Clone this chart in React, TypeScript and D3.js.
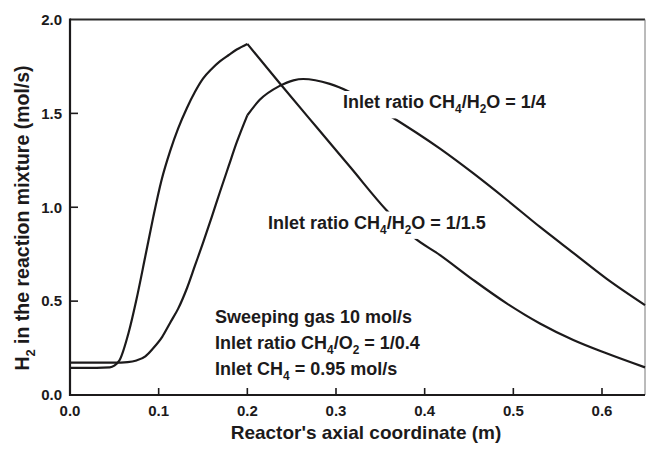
import React, { useEffect, useRef } from "react";
import * as d3 from "d3";

const WIDTH = 646;
const HEIGHT = 451;
const FONT = "'Liberation Sans', Arial, Helvetica, sans-serif";
const INK = "#1c1a1b";

// Inlet ratio CH4/H2O = 1/1.5 : axial position (m) and H2 flow (mol/s)
const posRatio15 = [0, 0.03, 0.045, 0.05, 0.056, 0.066, 0.075, 0.085, 0.094, 0.103, 0.113, 0.122, 0.132, 0.141, 0.15, 0.16, 0.169, 0.179, 0.188, 0.2, 0.237, 0.278, 0.316, 0.357, 0.387, 0.4173, 0.455, 0.4925, 0.53, 0.5676, 0.605, 0.6485];
const h2Ratio15 = [0.145, 0.145, 0.147, 0.156, 0.186, 0.33, 0.51, 0.74, 0.95, 1.14, 1.3, 1.42, 1.53, 1.615, 1.685, 1.738, 1.777, 1.811, 1.84, 1.87, 1.658, 1.427, 1.214, 0.984, 0.842, 0.745, 0.612, 0.488, 0.381, 0.293, 0.222, 0.147];

// Inlet ratio CH4/H2O = 1/4
const posRatio4 = [0, 0.05, 0.065, 0.075, 0.085, 0.094, 0.104, 0.113, 0.122, 0.132, 0.141, 0.15, 0.16, 0.169, 0.179, 0.188, 0.2, 0.214, 0.236, 0.252, 0.263, 0.293, 0.316, 0.357, 0.4173, 0.455, 0.4925, 0.53, 0.5676, 0.605, 0.6485];
const h2Ratio4 = [0.172, 0.172, 0.175, 0.184, 0.206, 0.25, 0.31, 0.385, 0.46, 0.57, 0.69, 0.81, 0.95, 1.08, 1.22, 1.345, 1.49, 1.572, 1.645, 1.676, 1.683, 1.657, 1.613, 1.498, 1.312, 1.18, 1.04, 0.895, 0.757, 0.62, 0.479];

// Membrane section begins here; both profiles change slope at this point
const KINK = 0.2;

const xTicks = [0, 0.1, 0.2, 0.3, 0.4, 0.5, 0.6];
const yTicks = [0, 0.5, 1.0, 1.5, 2.0];

type Part = [string, boolean];

const xTitle = "Reactor's axial coordinate (m)";
const yTitle: Part[] = [["H", false], ["2", true], [" in the reaction mixture (mol/s)", false]];

const labelRatio4: Part[] = [["Inlet ratio CH", false], ["4", true], ["/H", false], ["2", true], ["O = 1/4", false]];
const labelRatio15: Part[] = [["Inlet ratio CH", false], ["4", true], ["/H", false], ["2", true], ["O = 1/1.5", false]];
const conditions: Part[][] = [
  [["Sweeping gas 10 mol/s", false]],
  [["Inlet ratio CH", false], ["4", true], ["/O", false], ["2", true], [" = 1/0.4", false]],
  [["Inlet CH", false], ["4", true], [" = 0.95 mol/s", false]],
];

function richText(
  g: d3.Selection<SVGGElement, unknown, null, undefined>,
  parts: Part[],
  x: number,
  y: number,
  size: number,
  anchor = "start"
) {
  const t = g
    .append("text")
    .attr("x", x)
    .attr("y", y)
    .attr("font-family", FONT)
    .attr("font-weight", "bold")
    .attr("font-size", size)
    .attr("fill", INK)
    .attr("text-anchor", anchor);
  const shift = size * 0.3;
  let down = false;
  parts.forEach(([s, sub]) => {
    const span = t.append("tspan").text(s);
    if (sub) {
      span.attr("font-size", size * 0.66);
      if (!down) span.attr("dy", shift);
      down = true;
    } else {
      if (down) span.attr("dy", -shift);
      down = false;
    }
  });
  return t;
}

export default function App() {
  const ref = useRef<SVGSVGElement>(null);

  useEffect(() => {
    const svg = d3.select(ref.current!);
    svg.selectAll("*").remove();
    const g = svg.append("g");

    const x = d3.scaleLinear().domain([0, 0.6485]).range([70, 645]);
    const y = d3.scaleLinear().domain([0, 2]).range([395, 19.5]);

    // frame
    g.append("line").attr("x1", x(0)).attr("x2", x.range()[1]).attr("y1", y(2)).attr("y2", y(2))
      .attr("stroke", "#2a2a2a").attr("stroke-width", 1.8);
    g.append("line").attr("x1", x.range()[1]).attr("x2", x.range()[1]).attr("y1", y(2)).attr("y2", y(0))
      .attr("stroke", "#777").attr("stroke-width", 1);

    // curves
    const line = d3
      .line<[number, number]>()
      .x((d) => x(d[0]))
      .y((d) => y(d[1]))
      .curve(d3.curveMonotoneX);

    const series = [
      { pos: posRatio15, h2: h2Ratio15 },
      { pos: posRatio4, h2: h2Ratio4 },
    ];
    series.forEach(({ pos, h2 }) => {
      const pts: [number, number][] = pos.map((p, i) => [p, h2[i]]);
      const k = pos.indexOf(KINK);
      [pts.slice(0, k + 1), pts.slice(k)].forEach((seg) => {
        g.append("path")
          .attr("d", line(seg)!)
          .attr("fill", "none")
          .attr("stroke", INK)
          .attr("stroke-width", 2.2)
          .attr("stroke-linejoin", "miter");
      });
    });

    // axes
    g.append("line").attr("x1", x(0)).attr("x2", x(0)).attr("y1", y(2) - 1).attr("y2", y(0) + 1)
      .attr("stroke", INK).attr("stroke-width", 2.2);
    g.append("line").attr("x1", x(0) - 1).attr("x2", x.range()[1]).attr("y1", y(0)).attr("y2", y(0))
      .attr("stroke", INK).attr("stroke-width", 2.2);

    xTicks.forEach((t) => {
      if (t > 0) {
        g.append("line").attr("x1", x(t)).attr("x2", x(t)).attr("y1", y(0)).attr("y2", y(0) - 7)
          .attr("stroke", INK).attr("stroke-width", 1.6);
      }
      g.append("text")
        .attr("x", x(t))
        .attr("y", 415.5)
        .attr("text-anchor", "middle")
        .attr("font-family", FONT)
        .attr("font-weight", "bold")
        .attr("font-size", 15)
        .attr("fill", INK)
        .text(d3.format(".1f")(t));
    });
    yTicks.forEach((t) => {
      if (t > 0 && t < 2) {
        g.append("line").attr("x1", x(0)).attr("x2", x(0) + 8).attr("y1", y(t)).attr("y2", y(t))
          .attr("stroke", INK).attr("stroke-width", 1.6);
      }
      g.append("text")
        .attr("x", 62)
        .attr("y", y(t) + 5.3)
        .attr("text-anchor", "end")
        .attr("font-family", FONT)
        .attr("font-weight", "bold")
        .attr("font-size", 15)
        .attr("fill", INK)
        .text(d3.format(".1f")(t));
    });

    // axis titles
    g.append("text")
      .attr("x", 366)
      .attr("y", 439)
      .attr("text-anchor", "middle")
      .attr("font-family", FONT)
      .attr("font-weight", "bold")
      .attr("font-size", 19)
      .attr("fill", INK)
      .text(xTitle);

    const yg = g.append("g").attr("transform", "translate(29,218) rotate(-90)");
    richText(yg, yTitle, 0, 0, 19.5, "middle");

    // curve labels sit on a white box that interrupts the lines beneath
    const boxed = (parts: Part[], lx: number, ly: number) => {
      const lg = g.append("g");
      const t = richText(lg, parts, lx, ly, 18);
      const b = (t.node() as SVGTextElement).getBBox();
      lg.insert("rect", "text")
        .attr("x", b.x - 3)
        .attr("y", b.y - 1)
        .attr("width", b.width + 6)
        .attr("height", b.height + 3)
        .attr("fill", "#fff");
    };
    boxed(labelRatio4, 343, 108);
    boxed(labelRatio15, 268, 228.5);

    conditions.forEach((parts, i) => {
      richText(g, parts, 215, 323 + i * 26, 18);
    });
  }, []);

  return (
    <svg
      ref={ref}
      width={WIDTH}
      height={HEIGHT}
      style={{ position: "absolute", left: 0, top: 0, background: "#fff" }}
    />
  );
}
